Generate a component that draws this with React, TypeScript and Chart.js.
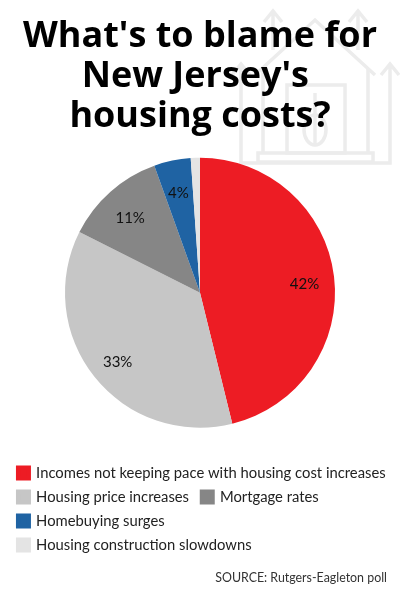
import React, { useEffect, useRef } from "react";
import { Chart, registerables } from "chart.js";

Chart.register(...registerables);

const categories = [
  "Incomes not keeping pace with housing cost increases",
  "Housing price increases ",
  "Mortgage rates",
  "Homebuying surges",
  "Housing construction slowdowns",
];
const values = [42, 33, 11, 4, 1];
const shownLabels = ["42%", "33%", "11%", "4%", ""];
const colors = ["#ed1c24", "#c6c6c6", "#868686", "#1f63a3", "#e4e4e4"];
const titleLines = ["What's to blame for", "New Jersey's ", "housing costs?"];
const source = "SOURCE: Rutgers-Eagleton poll";

const sliceLabels = {
  id: "sliceLabels",
  afterDatasetsDraw(chart: any) {
    const ctx = chart.ctx;
    ctx.save();
    ctx.font = "15px Lato";
    ctx.fillStyle = "#111";
    ctx.textAlign = "center";
    ctx.textBaseline = "middle";
    chart.getDatasetMeta(0).data.forEach((arc: any, i: number) => {
      const { x, y, startAngle, endAngle, outerRadius } = arc.getProps([
        "x",
        "y",
        "startAngle",
        "endAngle",
        "outerRadius",
      ]);
      const mid = (startAngle + endAngle) / 2;
      const r = outerRadius * 0.78;
      ctx.fillText(shownLabels[i], x + Math.cos(mid) * r, y + Math.sin(mid) * r + 4);
    });
    ctx.restore();
  },
};

const sourceLine = {
  id: "sourceLine",
  afterDraw(chart: any) {
    const ctx = chart.ctx;
    ctx.save();
    ctx.font = "12.4px Lato";
    ctx.fillStyle = "#333";
    ctx.textAlign = "right";
    ctx.textBaseline = "alphabetic";
    ctx.fillText(source, chart.width - 13, 582);
    ctx.restore();
  },
};

export default function App() {
  const ref = useRef<HTMLCanvasElement>(null);
  useEffect(() => {
    document.body.style.margin = "0";
    document.body.style.background = "#fff";
    const chart = new Chart(ref.current!, {
      type: "pie",
      data: {
        labels: categories,
        datasets: [{ data: values, backgroundColor: colors, borderWidth: 0, radius: 135 }],
      },
      options: {
        responsive: false,
        animation: false,
        layout: { padding: { top: 17, bottom: 37.5, left: 9, right: 9 } },
        plugins: {
          tooltip: { enabled: false },
          title: {
            display: true,
            text: titleLines,
            color: "#000",
            font: { family: "'Open Sans'", size: 36, weight: "bold", lineHeight: 1.11 },
            padding: { top: 0, bottom: -8 },
          },
          legend: {
            position: "bottom",
            align: "start",
            labels: {
              boxWidth: 10.5,
              boxHeight: 10.5,
              padding: 9.2,
              color: "#222",
              font: { family: "Lato", size: 14.8 },
              generateLabels() {
                return categories.map((text, i) => ({
                  text,
                  index: i,
                  fillStyle: colors[i],
                  strokeStyle: colors[i],
                  lineWidth: 4.5,
                  fontColor: "#222",
                  hidden: false,
                }));
              },
            },
          },
        },
      },
      plugins: [sliceLabels, sourceLine],
    } as any);
    return () => chart.destroy();
  }, []);
  return (
    <div style={{ position: "relative", width: 400, height: 600 }}>
      <svg
        width={400}
        height={600}
        style={{ position: "absolute", left: 0, top: 0 }}
        fill="none"
        stroke="#ececec"
        strokeWidth={3.5}
      >
        <path d="M241 65V163H390V65M232 75L241 64L250 75M381 75L390 64L399 75" />
        <path d="M255 75L315 20L375 75" />
        <path d="M263 68V153M368 68V153" />
        <path d="M273 50V11M264 22L273 11L282 22M358 50V11M349 22L358 11L367 22" />
        <rect x="258" y="153" width="115" height="9" />
        <rect x="287" y="85" width="58" height="68" />
        <ellipse cx="315" cy="130" rx="11" ry="15" />
        <path d="M315 93V146" />
      </svg>
      <canvas ref={ref} width={400} height={600} style={{ position: "relative", display: "block" }} />
    </div>
  );
}
